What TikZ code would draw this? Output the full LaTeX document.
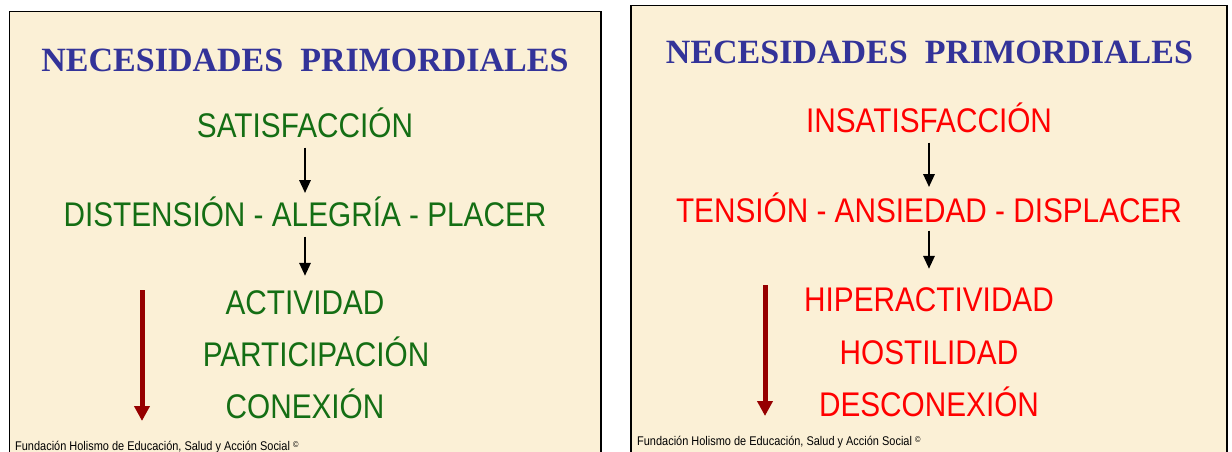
\documentclass[tikz,border=0pt]{standalone}
\usepackage{fontspec}
\setmainfont{Liberation Serif}
\newfontfamily\narrowsans[FakeStretch=0.87]{Liberation Sans}
\usetikzlibrary{arrows.meta}
\definecolor{cream}{HTML}{FBF0D6}
\definecolor{titleblue}{HTML}{333399}
\definecolor{goodgreen}{RGB}{20,110,20}
\definecolor{badred}{RGB}{255,0,0}
\definecolor{darkred}{RGB}{150,0,0}
\tikzset{
  panel/.style={draw=black, line width=1.3pt, fill=cream},
  titletext/.style={inner sep=0pt, anchor=base, text=titleblue, font=\fontsize{34}{40}\selectfont\bfseries},
  bigtext/.style={inner sep=0pt, anchor=base, font=\narrowsans\fontsize{34.2}{40}\selectfont},
  goodtext/.style={bigtext, text=goodgreen},
  badtext/.style={bigtext, text=badred},
  foot/.style={inner sep=0pt, anchor=base west, font=\narrowsans\fontsize{12.6}{14}\selectfont},
  blackarrow/.style={draw=black, line width=2.8pt, -{Triangle[length=13pt,width=11pt]}},
  redarrow/.style={draw=darkred, line width=5pt, -{Triangle[length=15pt,width=15pt]}}
}
\newcommand{\copysign}{{\fontsize{8.5}{8.5}\selectfont\raisebox{3pt}{©}}}
\begin{document}
\begin{tikzpicture}[x=1pt,y=-1pt]
\useasboundingbox (0,0) rectangle (1232,452);
\fill[white] (0,0) rectangle (1232,452);
\draw[panel] (9.5,11.5) rectangle (601,470);
\draw[panel] (631,5.5) rectangle (1227,470);

% left panel
\node[titletext] (lt) at (305,71) {NECESIDADES\ \ PRIMORDIALES};
\node[goodtext] (sat) at (305,137) {SATISFACCIÓN};
\node[goodtext] (dist) at (305,226) {DISTENSIÓN - ALEGRÍA - PLACER};
\node[goodtext] (act) at (305,314) {ACTIVIDAD};
\node[goodtext] (part) at (316,366) {PARTICIPACIÓN};
\node[goodtext] (conx) at (305,418) {CONEXIÓN};
\node[foot] (lf) at (15,450) {Fundación Holismo de Educación, Salud y Acción Social \copysign};
\draw[blackarrow] ([yshift=-10pt]sat.south) -- ([yshift=3pt]dist.north);
\draw[blackarrow] ([yshift=-10pt]dist.south) -- ([yshift=14pt]act.north);
\coordinate (lra) at (142,290);
\coordinate (lrb) at (142,421);
\draw[redarrow] (lra) -- (lrb);

% right panel
\node[titletext] (rt) at (929.5,64) {NECESIDADES\ \ PRIMORDIALES};
\node[badtext] (insat) at (929,132) {INSATISFACCIÓN};
\node[badtext] (tens) at (929,222) {TENSIÓN - ANSIEDAD - DISPLACER};
\node[badtext] (hiper) at (929,311) {HIPERACTIVIDAD};
\node[badtext] (host) at (929,364) {HOSTILIDAD};
\node[badtext] (desc) at (929,416) {DESCONEXIÓN};
\node[foot] (rf) at (637,445) {Fundación Holismo de Educación, Salud y Acción Social \copysign};
\draw[blackarrow] ([yshift=-10pt]insat.south) -- ([yshift=5pt]tens.north);
\draw[blackarrow] ([yshift=-8pt]tens.south) -- ([yshift=18pt]hiper.north);
\coordinate (rra) at (765,285);
\coordinate (rrb) at (765,416);
\draw[redarrow] (rra) -- (rrb);
\end{tikzpicture}
\end{document}
